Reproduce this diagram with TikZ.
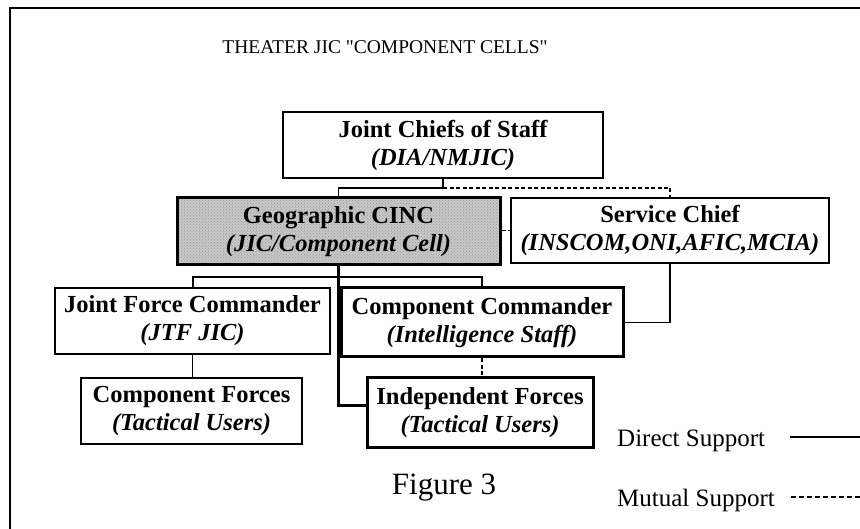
\documentclass[tikz,border=0pt]{standalone}
\usepackage{fontspec}
\setmainfont{Liberation Serif}
\usetikzlibrary{patterns}
\begin{document}
\begin{tikzpicture}[x=1pt,y=-1pt,
  box/.style={draw=black, line width=1.4pt, fill=white, align=center, inner sep=0pt,
    font=\fontsize{24.5}{28}\selectfont\bfseries},
  heavybox/.style={box, line width=3pt},
  midbox/.style={box, line width=2pt},
  direct/.style={draw=black, line width=1.3pt},
  heavyline/.style={draw=black, line width=2.6pt},
  midline/.style={draw=black, line width=2pt},
  mutual/.style={draw=black, line width=1.3pt, dash pattern=on 4pt off 2.5pt},
  lbl/.style={inner sep=0pt, font=\fontsize{25}{28}\selectfont}
]
\useasboundingbox (0,0) rectangle (860,529);
% frame
\coordinate (frBL) at (10,529);
\coordinate (frTL) at (10,8);
\coordinate (frTR) at (860,8);
\draw[line width=1.8pt] (frBL) -- (frTL) -- (frTR);

\node[inner sep=0pt, font=\fontsize{19.5}{22}\selectfont\addfontfeatures{Ligatures=TeXOff}] (title) at (385,47)
  {THEATER JIC "COMPONENT CELLS"};

\node[box, minimum width=320pt, minimum height=66pt] (jcs) at (443,145)
  {Joint Chiefs of Staff\\\textit{(DIA/NMJIC)}};
\node[heavybox, preaction={fill=black!22}, pattern=crosshatch dots, pattern color=black!40,
  minimum width=323pt, minimum height=67pt] (geo) at (338.5,231.5)
  {Geographic CINC\\\textit{(JIC/Component Cell)}};
\node[midbox, minimum width=318pt, minimum height=65pt] (sc) at (670,230.5)
  {Service Chief\\\textit{(INSCOM,ONI,AFIC,MCIA)}};
\node[box, minimum width=275pt, minimum height=66pt] (jfc) at (192.5,321)
  {Joint Force Commander\\\textit{(JTF JIC)}};
\node[heavybox, minimum width=282pt, minimum height=69pt] (cc) at (482,322.5)
  {Component Commander\\\textit{(Intelligence Staff)}};
\node[midbox, minimum width=221pt, minimum height=66pt] (cf) at (191.5,411)
  {Component Forces\\\textit{(Tactical Users)}};
\node[heavybox, minimum width=226pt, minimum height=69pt] (inf) at (480,412.5)
  {Independent Forces\\\textit{(Tactical Users)}};

% buses
\coordinate (busA) at (0,188);
\coordinate (busB) at (0,277);

\draw[direct] (jcs.south) -- (jcs.south |- busA) -| (geo.north);
\draw[mutual] (jcs.south |- busA) -| (sc.north);
\draw[mutual] (geo.east |- sc.west) -- (sc.west);
\draw[midline] (jfc.north) -- (jfc.north |- busB) -| (cc.north);
\draw[heavyline] (geo.south) |- ([yshift=7pt]inf.west);
\draw[direct] (jfc.south) -- (jfc.south |- cf.north);
\draw[mutual] (cc.south) -- (cc.south |- inf.north);
\draw[direct] (sc.south) |- (cc.east);

\node[lbl, font=\fontsize{31}{34}\selectfont] (fig) at (444,488) {Figure 3};

% legend
\node[lbl, anchor=west] (lgd) at (617,441) {Direct Support};
\node[lbl, anchor=west] (lgm) at (617,500) {Mutual Support};
\coordinate (lgdA) at (790,437);
\coordinate (lgdB) at (860,437);
\coordinate (lgmA) at (791,497);
\coordinate (lgmB) at (860,497);
\draw[direct] (lgdA) -- (lgdB);
\draw[mutual, line width=1.6pt, dash pattern=on 5pt off 3pt] (lgmA) -- (lgmB);
\end{tikzpicture}
\end{document}
